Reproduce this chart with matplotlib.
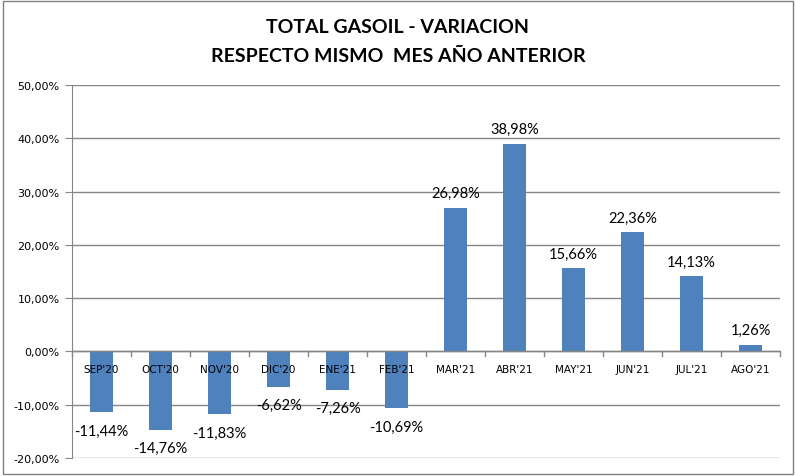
import matplotlib
matplotlib.use('Agg')
import matplotlib.pyplot as plt
from matplotlib.patches import Rectangle
import numpy as np

months = ["SEP'20", "OCT'20", "NOV'20", "DIC'20", "ENE'21", "FEB'21",
          "MAR'21", "ABR'21", "MAY'21", "JUN'21", "JUL'21", "AGO'21"]
values = [-11.44, -14.76, -11.83, -6.62, -7.26, -10.69,
          26.98, 38.98, 15.66, 22.36, 14.13, 1.26]
yticks = [-20, -10, 0, 10, 20, 30, 40, 50]

def fmt(v):
    return ('%.2f%%' % v).replace('.', ',')

fig = plt.figure(figsize=(7.96, 4.77), dpi=100)
fig.patches.append(Rectangle((0.004, 0.004), 0.992, 0.992, transform=fig.transFigure,
                             fill=False, edgecolor='#808080', linewidth=1))
ax = fig.add_axes([0.0905, 0.0377, 0.8895, 0.782])

x = np.arange(len(months))
ax.bar(x, values, width=0.39, color='#4F81BD', zorder=3)

ax.set_xlim(-0.5, len(months) - 0.5)
ax.set_ylim(-20, 50)
ax.set_yticks(yticks)
ax.set_yticklabels([fmt(v) for v in yticks], fontsize=8, family='DejaVu Sans')
ax.yaxis.grid(True, color='#868686', linewidth=1, zorder=0)
ax.tick_params(axis='y', length=5, color='#868686', pad=4)

for s in ['top', 'right', 'bottom']:
    ax.spines[s].set_visible(False)
ax.spines['left'].set_color('#868686')

# category axis on the zero line
ax.set_xticks([])
ax.axhline(0, color='#868686', linewidth=1, zorder=4)
for b in np.arange(-0.5, len(months) + 0.5, 1.0):
    ax.plot([b, b], [0, -0.8], color='#868686', linewidth=1, zorder=4, clip_on=False)
for i, m in enumerate(months):
    ax.text(i, -3.3, m, ha='center', va='center', fontsize=7.5, family='DejaVu Sans', zorder=5)

for i, v in enumerate(values):
    if v >= 0:
        ax.text(i, v + 2.7, fmt(v), ha='center', va='center', fontsize=10.5, family='Lato', zorder=5)
    else:
        ax.text(i, v - 3.4, fmt(v), ha='center', va='center', fontsize=10.5, family='Lato', zorder=5)

fig.text(0.5, 0.943, 'TOTAL GASOIL - VARIACION', ha='center', va='center',
         fontsize=14, fontweight='bold', family='Lato')
fig.text(0.5, 0.882, 'RESPECTO MISMO  MES AÑO ANTERIOR', ha='center', va='center',
         fontsize=14, fontweight='bold', family='Lato')

fig.savefig('out.png', dpi=100)
